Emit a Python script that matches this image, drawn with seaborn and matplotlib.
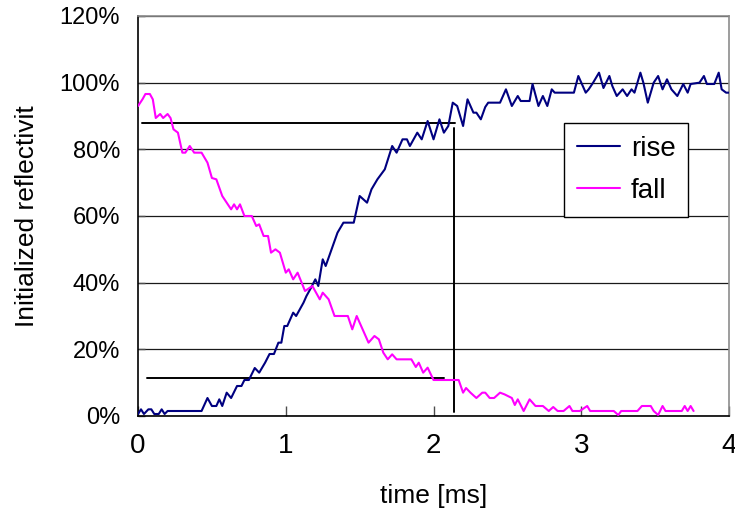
#!/usr/bin/env python3
"""Rise / fall response of the initialized reflectivity."""

import pandas as pd
import matplotlib
matplotlib.use("Agg")
import matplotlib.pyplot as plt
from matplotlib.ticker import FuncFormatter
import seaborn as sns

# rise curve (time in ms, reflectivity in %)
rise_t = [0.00, 0.02, 0.04, 0.07, 0.09, 0.11, 0.14, 0.16, 0.18, 0.20, 0.43,
          0.47, 0.50, 0.53, 0.55, 0.57, 0.60, 0.63, 0.67, 0.70, 0.72, 0.75,
          0.79, 0.82, 0.86, 0.89, 0.92, 0.95, 0.97, 0.99, 1.01, 1.05, 1.07,
          1.12, 1.14, 1.17, 1.20, 1.22, 1.25, 1.27, 1.31, 1.35, 1.39, 1.46,
          1.50, 1.55, 1.58, 1.62, 1.67, 1.72, 1.75, 1.79, 1.82, 1.84, 1.89,
          1.92, 1.96, 2.00, 2.04, 2.07, 2.10, 2.13, 2.16, 2.20, 2.23, 2.27,
          2.29, 2.32, 2.35, 2.37, 2.45, 2.49, 2.53, 2.57, 2.59, 2.65, 2.67,
          2.71, 2.74, 2.77, 2.80, 2.82, 2.95, 2.98, 3.03, 3.05, 3.08, 3.12,
          3.15, 3.19, 3.21, 3.24, 3.28, 3.31, 3.34, 3.36, 3.40, 3.42, 3.45,
          3.49, 3.52, 3.55, 3.58, 3.61, 3.65, 3.69, 3.72, 3.74, 3.80, 3.83,
          3.85, 3.90, 3.93, 3.95, 3.98, 4.00]
rise_v = [0.6, 2.0, 0.6, 2.0, 2.0, 0.6, 0.6, 2.0, 0.6, 1.5, 1.5,
          5.4, 3.0, 3.0, 5.0, 3.0, 7.0, 5.4, 9.0, 9.0, 10.8, 10.8,
          14.4, 13.0, 16.0, 18.6, 18.6, 22.0, 22.0, 27.0, 27.0, 31.0, 30.0,
          34.0, 36.0, 38.4, 41.0, 39.0, 47.0, 45.0, 50.0, 55.0, 58.0, 58.0,
          66.0, 64.0, 68.0, 71.0, 74.0, 81.0, 79.0, 83.0, 83.0, 81.0, 85.0,
          83.0, 88.5, 83.0, 89.0, 85.0, 87.0, 94.0, 93.0, 87.0, 95.0, 91.0,
          91.0, 89.0, 92.7, 94.0, 94.0, 98.0, 93.0, 96.0, 94.5, 94.5, 99.6,
          93.0, 96.0, 93.0, 98.0, 97.0, 97.0, 102.0, 97.0, 98.0, 100.0, 103.0,
          98.4, 102.0, 99.0, 96.0, 98.0, 96.0, 98.0, 97.0, 103.0, 100.0, 94.0,
          100.0, 102.0, 98.0, 101.0, 98.0, 96.0, 99.6, 97.0, 99.6, 100.0, 102.0,
          99.6, 99.6, 103.0, 98.0, 97.0, 97.0]

# fall curve
fall_t = [0.00, 0.03, 0.05, 0.08, 0.10, 0.12, 0.15, 0.17, 0.20, 0.22, 0.24,
          0.27, 0.30, 0.32, 0.35, 0.38, 0.43, 0.47, 0.50, 0.53, 0.57, 0.60,
          0.63, 0.65, 0.67, 0.69, 0.72, 0.77, 0.80, 0.82, 0.85, 0.88, 0.90,
          0.93, 0.96, 1.00, 1.02, 1.05, 1.08, 1.13, 1.18, 1.23, 1.25, 1.29,
          1.33, 1.42, 1.45, 1.48, 1.52, 1.56, 1.60, 1.63, 1.66, 1.69, 1.72,
          1.75, 1.85, 1.88, 1.90, 1.93, 1.96, 2.00, 2.17, 2.20, 2.22, 2.25,
          2.29, 2.33, 2.35, 2.38, 2.41, 2.45, 2.48, 2.53, 2.55, 2.57, 2.61,
          2.65, 2.69, 2.74, 2.78, 2.81, 2.84, 2.88, 2.92, 2.94, 2.99, 3.04,
          3.06, 3.22, 3.25, 3.27, 3.38, 3.41, 3.47, 3.49, 3.52, 3.55, 3.57,
          3.68, 3.70, 3.72, 3.74, 3.76]
fall_v = [93.0, 95.0, 96.6, 96.6, 95.0, 89.4, 90.6, 89.4, 90.6, 89.4, 86.0,
          85.0, 79.0, 79.0, 81.0, 79.0, 79.0, 76.0, 71.4, 71.0, 66.0, 64.0,
          62.0, 63.5, 62.0, 63.5, 60.0, 60.0, 57.0, 57.5, 54.0, 54.0, 49.0,
          50.0, 49.0, 43.0, 44.0, 41.0, 43.0, 37.5, 39.0, 35.0, 37.0, 35.0,
          30.0, 30.0, 26.0, 30.0, 26.0, 22.0, 24.0, 23.0, 19.0, 17.0, 18.5,
          17.0, 17.0, 14.7, 16.0, 13.0, 14.5, 10.8, 10.8, 7.0, 8.4, 7.0,
          5.4, 7.0, 7.0, 5.4, 5.4, 7.0, 6.5, 5.4, 3.3, 5.0, 1.5,
          5.0, 3.0, 3.0, 1.5, 2.7, 1.5, 1.5, 3.0, 1.5, 1.5, 3.0,
          1.5, 1.5, 0.3, 1.5, 1.5, 3.0, 3.0, 1.5, 0.3, 3.0, 1.5,
          1.5, 3.0, 1.5, 3.0, 1.5]

# guide lines: 90% / 10% levels and rise time marker
upper_level = 88.0
upper_span = [0.03, 2.145]
lower_level = 11.5
lower_span = [0.06, 2.07]
marker_t = 2.14
marker_span = [1.2, 86.4]

x_ticks = [0, 1, 2, 3, 4]
y_ticks = [0, 20, 40, 60, 80, 100, 120]

rise = pd.DataFrame({"time": rise_t, "value": rise_v, "series": "rise"})
fall = pd.DataFrame({"time": fall_t, "value": fall_v, "series": "fall"})
df = pd.concat([rise, fall], ignore_index=True)

sns.set_theme(style="white")
plt.rcParams.update({
    "font.family": ["Liberation Sans", "DejaVu Sans"],
    "text.color": "black",
    "axes.labelcolor": "black",
    "xtick.labelcolor": "black",
    "ytick.labelcolor": "black",
})

fig = plt.figure(figsize=(7.35, 5.12), dpi=100)
ax = fig.add_axes([0.1878, 0.1875, 0.8041, 0.78125])

# guide lines behind the data
ax.plot(upper_span, [upper_level, upper_level], color="black", lw=1.4, zorder=2)
ax.plot(lower_span, [lower_level, lower_level], color="black", lw=1.4, zorder=2)
ax.plot([marker_t, marker_t], marker_span, color="black", lw=1.4, zorder=2)

sns.lineplot(data=df, x="time", y="value", hue="series",
             palette={"rise": "#000080", "fall": "#FF00FF"},
             linewidth=1.5, ax=ax, zorder=3, estimator=None, sort=False)

ax.set_xlim(0, 4)
ax.set_ylim(0, 120)
ax.set_xticks(x_ticks)
ax.set_yticks(y_ticks)
ax.yaxis.set_major_formatter(FuncFormatter(lambda v, _: f"{v:.0f}%"))
ax.yaxis.grid(True, color="0.1", lw=0.9)
ax.xaxis.grid(False)
ax.set_axisbelow(True)

ax.tick_params(axis="x", direction="in", length=7, width=1, pad=12,
               labelsize=20, color="0.3", labelcolor="black")
ax.tick_params(axis="y", direction="in", length=5, width=1, pad=13,
               labelsize=17, color="0.3", labelcolor="black")
ax.tick_params(bottom=True, left=True)

for side in ["left", "bottom"]:
    ax.spines[side].set_color("black")
    ax.spines[side].set_linewidth(1.2)
for side in ["top", "right"]:
    ax.spines[side].set_color("0.55")
    ax.spines[side].set_linewidth(1.2)

ax.set_xlabel("time [ms]", fontsize=19, labelpad=18, color="black")
ax.set_ylabel("Initialized reflectivit", fontsize=19, labelpad=15, color="black")

handles, labels = ax.get_legend_handles_labels()
leg = ax.legend(handles, labels, loc="upper left",
                bbox_to_anchor=(0.721, 0.7325), borderaxespad=0,
                fontsize=20, frameon=True, fancybox=False, shadow=False,
                handlelength=1.55, handletextpad=0.4, labelspacing=0.6,
                borderpad=0.45)
leg.get_frame().set_edgecolor("black")
leg.get_frame().set_linewidth(1.0)
leg.get_frame().set_facecolor("white")
leg.get_frame().set_alpha(1)
for text in leg.get_texts():
    text.set_color("black")

fig.savefig("out.png", dpi=100)
